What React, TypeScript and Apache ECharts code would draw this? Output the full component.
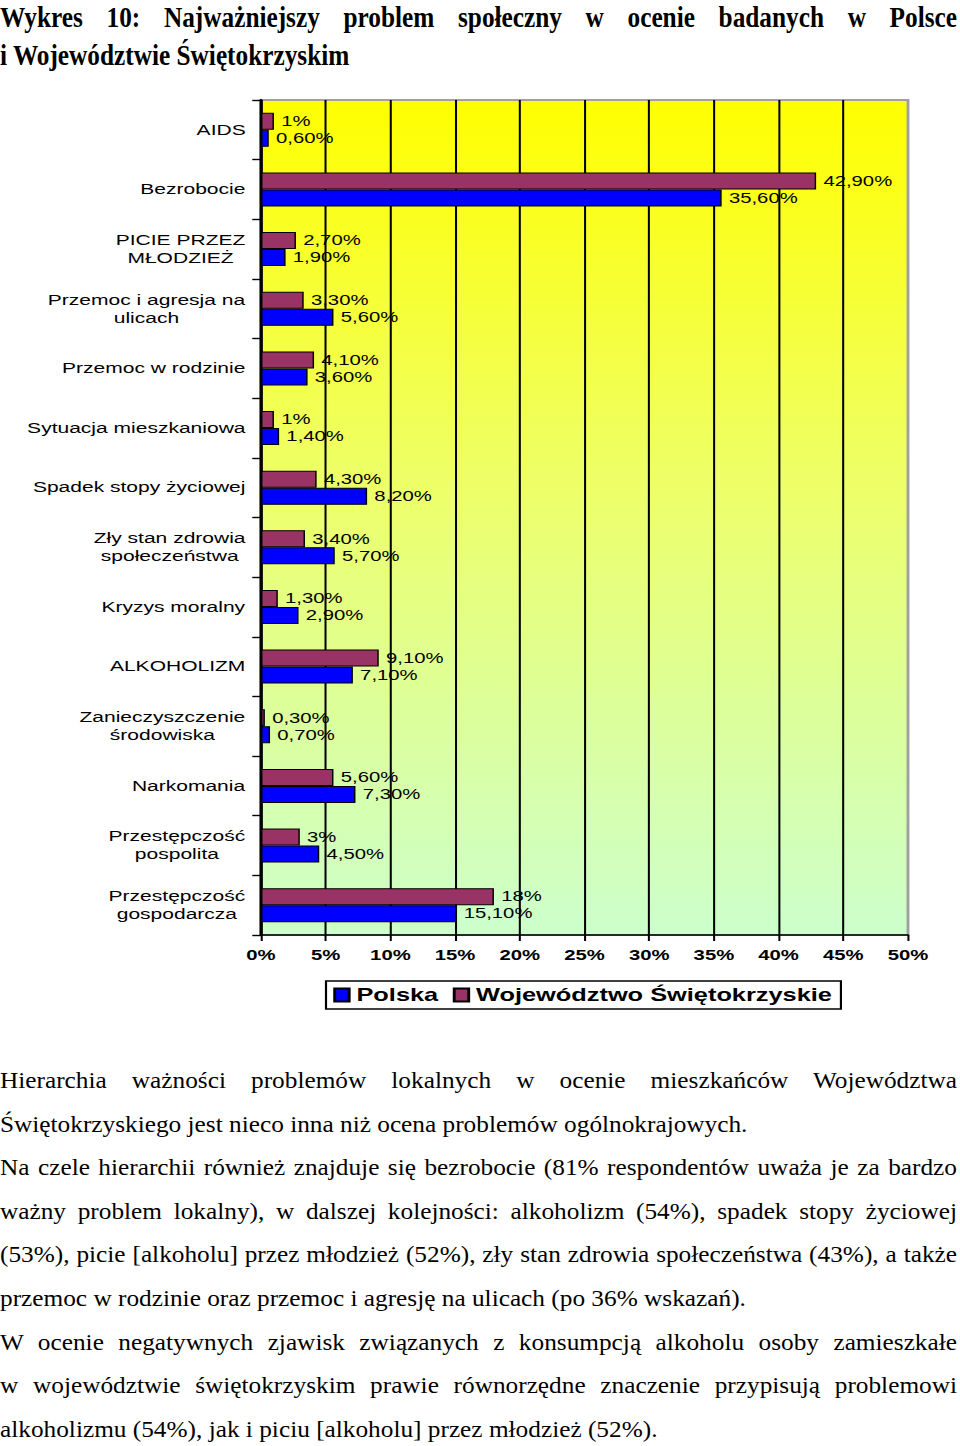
import React, { useEffect, useRef } from "react";
import * as echarts from "echarts";

// ---- data ----
const categories: string[] = [
  "AIDS",
  "Bezrobocie",
  "PICIE PRZEZ\nMŁODZIEŻ",
  "Przemoc i agresja na\nulicach",
  "Przemoc w rodzinie",
  "Sytuacja mieszkaniowa",
  "Spadek stopy życiowej",
  "Zły stan zdrowia\nspołeczeństwa",
  "Kryzys moralny",
  "ALKOHOLIZM",
  "Zanieczyszczenie\nśrodowiska",
  "Narkomania",
  "Przestępczość\npospolita",
  "Przestępczość\ngospodarcza",
];
const wojewodztwo: number[] = [1, 42.9, 2.7, 3.3, 4.1, 1, 4.3, 3.4, 1.3, 9.1, 0.3, 5.6, 3, 18];
const polska: number[] = [0.6, 35.6, 1.9, 5.6, 3.6, 1.4, 8.2, 5.7, 2.9, 7.1, 0.7, 7.3, 4.5, 15.1];
const seriesNames = ["Polska", "Województwo Świętokrzyskie"];
const xMin = 0;
const xMax = 50;
const xStep = 5;

const titleLines = [
  "Wykres 10: Najważniejszy problem społeczny w ocenie badanych w Polsce",
  "i Województwie Świętokrzyskim",
];
const paragraphLines: { text: string; justify: boolean }[] = [
  { text: "Hierarchia ważności problemów lokalnych w ocenie mieszkańców Województwa", justify: true },
  { text: "Świętokrzyskiego jest nieco inna niż ocena problemów ogólnokrajowych.", justify: false },
  { text: "Na czele hierarchii również znajduje się bezrobocie (81% respondentów uważa je za bardzo", justify: true },
  { text: "ważny problem lokalny), w dalszej kolejności: alkoholizm (54%), spadek stopy życiowej", justify: true },
  { text: "(53%), picie [alkoholu] przez młodzież (52%), zły stan zdrowia społeczeństwa (43%), a także", justify: true },
  { text: "przemoc w rodzinie oraz przemoc i agresję na ulicach (po 36% wskazań).", justify: false },
  { text: "W ocenie negatywnych zjawisk związanych z konsumpcją alkoholu osoby zamieszkałe", justify: true },
  { text: "w województwie świętokrzyskim prawie równorzędne znaczenie przypisują problemowi", justify: true },
  { text: "alkoholizmu (54%), jak i piciu [alkoholu] przez młodzież (52%).", justify: false },
];

// ---- layout ----
const S = 1.45; // horizontal stretch of the embedded chart
const PAGE_W = 960;
const CHART_W = PAGE_W / S;
const CHART_H = 1030;
const SANS = '"Liberation Sans", Arial, sans-serif';
const SERIF = '"Liberation Serif", "Times New Roman", serif';
const CAT_FONT = 14.5;

const fmtPct = (v: number) =>
  Number.isInteger(v) ? `${v}%` : `${v.toFixed(2).replace(".", ",")}%`;

function measure(text: string, font: string): number {
  const c = document.createElement("canvas");
  const ctx = c.getContext("2d");
  if (!ctx) return text.length * 7;
  ctx.font = font;
  return ctx.measureText(text).width;
}

function Chart() {
  const ref = useRef<HTMLDivElement>(null);
  useEffect(() => {
    if (!ref.current) return;
    const chart = echarts.init(ref.current, undefined, { renderer: "svg" });

    const rich: Record<string, any> = {};
    categories.forEach((c, i) => {
      const lines = c.split("\n");
      const w = Math.max(...lines.map((l) => measure(l, `${CAT_FONT}px ${SANS}`)));
      rich["c" + i] = {
        width: Math.ceil(w) + 1,
        align: "center",
        fontSize: CAT_FONT,
        lineHeight: 18,
        fontFamily: SANS,
        color: "#000",
      };
    });

    const labelCommon = {
      show: true,
      position: "right",
      distance: 5,
      fontSize: 14,
      fontFamily: SANS,
      color: "#000",
      formatter: (p: any) => fmtPct(p.value),
    };

    chart.setOption({
      animation: false,
      grid: {
        left: 261 / S,
        top: 100,
        width: 647 / S,
        height: 835,
        show: true,
        backgroundColor: new echarts.graphic.LinearGradient(0, 0, 0, 1, [
          { offset: 0, color: "#FFFF00" },
          { offset: 0.45, color: "#EEFF66" },
          { offset: 1, color: "#CCFFCC" },
        ]),
        borderColor: "#A0A0A0",
        borderWidth: 2,
      },
      legend: {
        data: seriesNames,
        left: 326 / S,
        top: 981,
        orient: "horizontal",
        itemWidth: 10,
        itemHeight: 13,
        itemGap: 10,
        padding: [5, 6, 5, 5],
        borderColor: "#000",
        borderWidth: 1.5,
        icon: "rect",
        textStyle: {
          fontSize: 17.5,
          fontWeight: "bold",
          fontFamily: SANS,
          color: "#000",
        },
      },
      xAxis: {
        type: "value",
        min: xMin,
        max: xMax,
        interval: xStep,
        axisLine: { show: true, lineStyle: { color: "#000", width: 1.5 } },
        axisTick: { show: true, length: 6, lineStyle: { color: "#000", width: 1.4 } },
        axisLabel: {
          formatter: "{value}%",
          fontSize: 14,
          fontWeight: "bold",
          fontFamily: SANS,
          color: "#000",
          margin: 13,
        },
        splitLine: {
          show: true,
          showMaxLine: false,
          lineStyle: { color: "#000", width: 1.4 },
        },
      },
      yAxis: {
        type: "category",
        data: categories,
        inverse: true,
        axisLine: { show: true, lineStyle: { color: "#000", width: 2 } },
        axisTick: { show: true, length: 6, lineStyle: { color: "#000", width: 1.4 } },
        axisLabel: {
          margin: 10,
          formatter: (value: string, index: number) =>
            value
              .split("\n")
              .map((l) => `{c${index}|${l}}`)
              .join("\n"),
          rich,
        },
      },
      series: [
        {
          name: seriesNames[1],
          type: "bar",
          data: wojewodztwo,
          barCategoryGap: "43%",
          barGap: "0%",
          itemStyle: { color: "#993366", borderColor: "#000", borderWidth: 1 },
          label: labelCommon,
        },
        {
          name: seriesNames[0],
          type: "bar",
          data: polska,
          barCategoryGap: "43%",
          barGap: "0%",
          itemStyle: { color: "#0000FF", borderColor: "#000", borderWidth: 1 },
          label: labelCommon,
        },
      ],
    });
    return () => chart.dispose();
  }, []);
  return (
    <div
      ref={ref}
      style={{
        position: "absolute",
        left: 0,
        top: 0,
        width: CHART_W,
        height: CHART_H,
        transform: `scaleX(${S})`,
        transformOrigin: "0 0",
      }}
    />
  );
}

export default function App() {
  const titleFont = 30;
  const titleScale = 0.843;
  const paraScale = 1.054;
  return (
    <div
      style={{
        position: "absolute",
        left: 0,
        top: 0,
        width: PAGE_W,
        height: 1446,
        background: "#fff",
        overflow: "hidden",
      }}
    >
      <Chart />
      {titleLines.map((t, i) => (
        <div
          key={"t" + i}
          style={{
            position: "absolute",
            left: 0,
            top: i === 0 ? 0 : 37.5,
            width: 957 / titleScale,
            transform: `scaleX(${titleScale})`,
            transformOrigin: "0 0",
            font: `bold ${titleFont}px ${SERIF}`,
            lineHeight: "34px",
            color: "#000",
            textAlign: i === 0 ? "justify" : "left",
            textAlignLast: i === 0 ? "justify" : "left",
            whiteSpace: "nowrap",
          }}
        >
          {t}
        </div>
      ))}
      {paragraphLines.map((p, i) => (
        <div
          key={"p" + i}
          style={{
            position: "absolute",
            left: 0,
            top: 1065 + i * 43.6,
            width: 957 / paraScale,
            transform: `scaleX(${paraScale})`,
            transformOrigin: "0 0",
            font: `24px ${SERIF}`,
            lineHeight: "30px",
            color: "#000",
            textAlign: p.justify ? "justify" : "left",
            textAlignLast: p.justify ? "justify" : "left",
            whiteSpace: "nowrap",
          }}
        >
          {p.text}
        </div>
      ))}
    </div>
  );
}
